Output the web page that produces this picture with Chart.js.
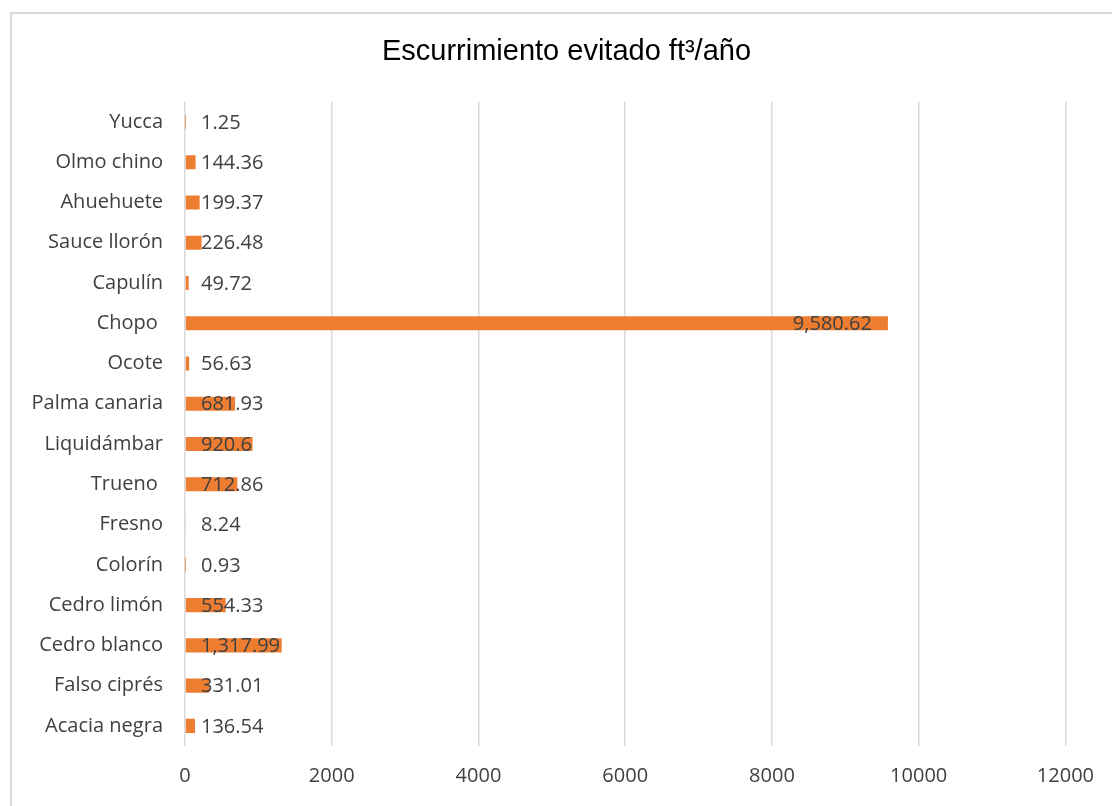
<!DOCTYPE html>
<html lang="es">
<head>
<meta charset="utf-8">
<title>Escurrimiento evitado</title>
<script src="https://cdn.jsdelivr.net/npm/chart.js@4.4.1/dist/chart.umd.min.js"></script>
<style>
  html, body { margin: 0; padding: 0; background: #ffffff; }
  body { width: 1112px; height: 806px; position: relative; overflow: hidden; }
  #frame { position: absolute; left: 10px; top: 12px; width: 1200px; height: 900px;
           border: 2px solid #d9d9d9; box-sizing: border-box; }
  #chart { position: absolute; left: 0; top: 0; }
</style>
</head>
<body>
<div id="frame"></div>
<canvas id="chart" width="1112" height="806"></canvas>
<script>
// Especies (de arriba hacia abajo) y escurrimiento evitado en ft³/año
const species = [
  'Yucca', 'Olmo chino', 'Ahuehuete', 'Sauce llorón', 'Capulín', 'Chopo ',
  'Ocote', 'Palma canaria', 'Liquidámbar', 'Trueno ', 'Fresno', 'Colorín',
  'Cedro limón', 'Cedro blanco', 'Falso ciprés', 'Acacia negra'
];
const runoff = [
  1.25, 144.36, 199.37, 226.48, 49.72, 9580.62,
  56.63, 681.93, 920.6, 712.86, 8.24, 0.93,
  554.33, 1317.99, 331.01, 136.54
];
const xTicks = [0, 2000, 4000, 6000, 8000, 10000, 12000];
const chartTitle = 'Escurrimiento evitado ft³/año';

const BAR_COLOR = '#ED7D31';
const TEXT_COLOR = '#404040';
const GRID_COLOR = '#d9d9d9';
const FONT = "'Open Sans', sans-serif";
const FONT_SIZE = 20;

const fmt = v => v.toLocaleString('en-US', { maximumFractionDigits: 2 });

// Value labels: right-aligned just inside the bar end, never closer to the axis than the pad
const valueLabels = {
  id: 'valueLabels',
  afterDatasetsDraw(chart) {
    const ctx = chart.ctx;
    const meta = chart.getDatasetMeta(0);
    const x0 = chart.scales.x.getPixelForValue(0);
    const pad = 16;
    ctx.save();
    ctx.font = FONT_SIZE + "px 'Open Sans', sans-serif";
    ctx.fillStyle = TEXT_COLOR;
    ctx.textBaseline = 'middle';
    ctx.textAlign = 'left';
    meta.data.forEach((bar, i) => {
      const txt = fmt(runoff[i]);
      const w = ctx.measureText(txt).width;
      const left = Math.max(x0 + pad, bar.x - pad - w);
      ctx.fillText(txt, left, bar.y + 1);
    });
    ctx.restore();
  }
};

// Centre the title over the whole frame rather than the padded layout box
const titleShift = {
  id: 'titleShift',
  afterLayout(chart) {
    const t = chart.titleBlock;
    if (t) { t.left += 28; t.right += 28; }
  }
};

new Chart(document.getElementById('chart'), {
  type: 'bar',
  data: {
    labels: species,
    datasets: [{
      data: runoff,
      backgroundColor: BAR_COLOR,
      borderWidth: 0,
      barPercentage: 0.35,
      categoryPercentage: 1
    }]
  },
  options: {
    indexAxis: 'y',
    responsive: false,
    animation: false,
    layout: { padding: { left: 10, right: 45, top: 0, bottom: 0 } },
    plugins: {
      legend: { display: false },
      tooltip: { enabled: false },
      title: {
        display: true,
        text: chartTitle,
        color: '#000000',
        font: { family: "'Liberation Sans', Arial, sans-serif", size: 29, weight: 'normal', lineHeight: 1.2 },
        padding: { top: 35, bottom: 32 }
      }
    },
    scales: {
      x: {
        min: 0,
        max: 12000,
        afterBuildTicks(scale) { scale.ticks = xTicks.map(v => ({ value: v })); },
        afterFit(scale) { scale.height = 60; },
        grid: { color: GRID_COLOR, lineWidth: 1.5, drawTicks: false },
        border: { display: false },
        ticks: {
          color: TEXT_COLOR, padding: 18, font: { family: FONT, size: FONT_SIZE },
          callback: v => String(v)
        }
      },
      y: {
        afterFit(scale) { scale.width = 175; },
        grid: { display: false, drawTicks: false },
        border: { display: false },
        ticks: { color: TEXT_COLOR, padding: 22, font: { family: FONT, size: FONT_SIZE } }
      }
    }
  },
  plugins: [valueLabels, titleShift]
});
</script>
</body>
</html>
